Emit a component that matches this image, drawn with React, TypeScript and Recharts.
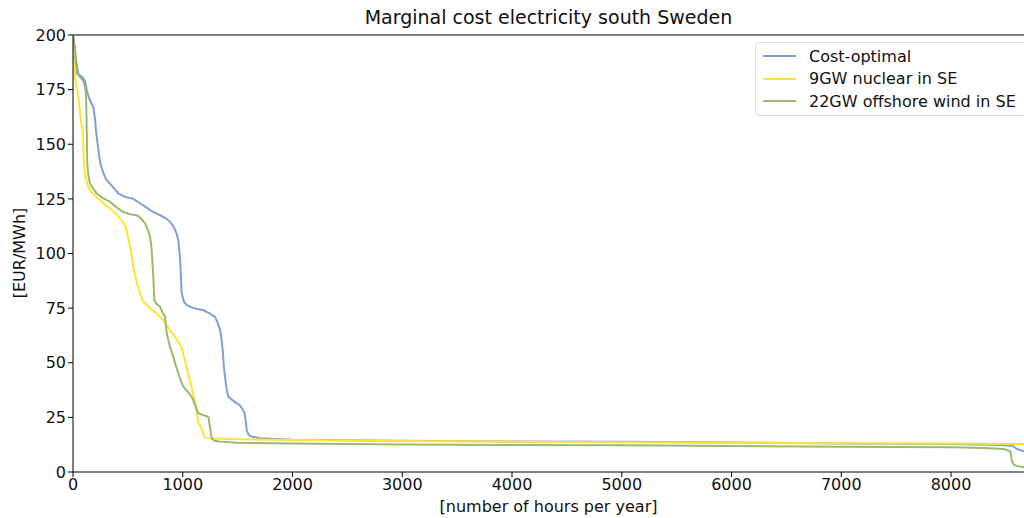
import React from "react";
import {
  LineChart,
  Line,
  XAxis,
  YAxis,
  ReferenceLine,
} from "recharts";

// duration curves: hours per year vs marginal cost [EUR/MWh]
const costOptimalHours = [0, 10, 25, 35, 50, 80, 110, 125, 140, 165, 185, 200, 210, 225, 240, 255, 276, 300, 337, 370, 413, 470, 550, 610, 671, 730, 793, 850, 884, 920, 945, 960, 975, 985, 990, 1010, 1036, 1100, 1187, 1250, 1294, 1320, 1340, 1355, 1364, 1375, 1385, 1400, 1415, 1450, 1490, 1522, 1560, 1575, 1582, 1600, 1628, 1700, 2000, 3000, 4000, 5000, 6000, 7000, 8000, 8450, 8560, 8600, 8665];
const costOptimalValues = [200, 196, 190, 186, 182, 181, 179, 175, 172, 169, 167, 162, 156, 150, 144, 140, 137, 134, 132, 130, 127.5, 126, 125, 123, 121, 119, 117.5, 116, 114.5, 112, 109, 106, 98, 88, 82, 78, 76.4, 75, 74, 72.5, 71, 68, 65, 60, 55.8, 48, 43.6, 38, 34.5, 33, 31.5, 30.5, 27.5, 23, 19.2, 17, 16.2, 15.5, 14.8, 14.3, 14, 13.8, 13.5, 13.1, 12.8, 12.3, 12, 10.5, 9.5];

const nuclearHours = [0, 8, 18, 35, 48, 60, 75, 88, 95, 100, 115, 135, 155, 200, 246, 300, 352, 413, 443, 480, 504, 520, 535, 550, 563, 585, 610, 640, 686, 750, 823, 880, 929, 960, 990, 1010, 1020, 1045, 1066, 1090, 1111, 1127, 1142, 1160, 1181, 1194, 1210, 1500, 2000, 3000, 4000, 5000, 6000, 7000, 8000, 8665];
const nuclearValues = [200, 190, 180, 176, 172, 166, 160, 156, 148, 141, 135, 131, 129, 126.5, 124.5, 122, 120, 117, 115, 112.5, 107, 103, 99, 94, 91, 86, 81.8, 78, 75.7, 73, 69.6, 65, 62, 59.5, 57, 53, 51, 46, 42, 37, 33, 27, 22.5, 21, 19, 16.2, 15.5, 15, 14.6, 14.2, 13.9, 13.6, 13.4, 13.2, 13, 12.8];

const offshoreHours = [0, 10, 18, 25, 34, 60, 94, 110, 118, 122, 125, 128, 130, 140, 155, 180, 216, 270, 337, 400, 459, 520, 580, 620, 656, 680, 702, 712, 717, 725, 733, 741, 760, 793, 815, 838, 854, 880, 914, 935, 960, 980, 1005, 1040, 1081, 1110, 1142, 1190, 1233, 1248, 1263, 1290, 1340, 1500, 2000, 3000, 4000, 5000, 6000, 7000, 8000, 8300, 8480, 8540, 8555, 8575, 8620, 8665];
const offshoreValues = [200, 197, 194, 188, 182.5, 181, 179, 176, 172, 165, 156.5, 148, 141, 136, 132, 130, 127.5, 125.5, 123.7, 121, 119, 118, 117.5, 116, 113.8, 111, 107.7, 104, 101.6, 95, 88, 78.7, 77, 75.7, 73, 71, 63.5, 58, 52.8, 49, 45.2, 42, 39, 37, 34.5, 31, 26.9, 26, 25.3, 20.7, 15.4, 14.3, 13.9, 13.4, 13, 12.6, 12.4, 12.2, 11.9, 11.6, 11.3, 11, 10.5, 9.5, 5, 3.2, 2.5, 2.3];

const xTicks = [0, 1000, 2000, 3000, 4000, 5000, 6000, 7000, 8000];
const yTicks = [0, 25, 50, 75, 100, 125, 150, 175, 200];

const toRows = (hours: number[], values: number[]) =>
  hours.map((h, i) => ({ hours: h, cost: values[i] }));

const series = [
  { name: "Cost-optimal", color: "#7f9fd8", data: toRows(costOptimalHours, costOptimalValues) },
  { name: "9GW nuclear in SE", color: "#ffe234", data: toRows(nuclearHours, nuclearValues) },
  { name: "22GW offshore wind in SE", color: "#9aba6c", data: toRows(offshoreHours, offshoreValues) },
];

const font = "'DejaVu Sans', sans-serif";

function LegendBox() {
  return (
    <div
      style={{
        position: "absolute",
        left: 755,
        top: 42,
        width: 290,
        border: "1px solid #dddddd",
        borderRadius: 4,
        background: "#fff",
        padding: "2px 8px 2px 7px",
        fontFamily: font,
        fontSize: 16,
        color: "#111",
      }}
    >
      {series.map((s) => (
        <div key={s.name} style={{ display: "flex", alignItems: "center", height: 22.5 }}>
          <span style={{ display: "inline-block", width: 33, height: 2, background: s.color, marginRight: 13 }} />
          <span>{s.name}</span>
        </div>
      ))}
    </div>
  );
}

export default function App() {
  return (
    <div style={{ position: "absolute", left: 0, top: 0, width: 1024, height: 518, background: "#fff", overflow: "hidden" }}>
      <div
        style={{
          position: "absolute",
          top: 6,
          left: 73,
          width: 951,
          textAlign: "center",
          fontFamily: font,
          fontSize: 19,
          color: "#111",
        }}
      >
        Marginal cost electricity south Sweden
      </div>
      <div
        style={{
          position: "absolute",
          left: 19,
          top: 253,
          transform: "translate(-50%, -50%) rotate(-90deg)",
          fontFamily: font,
          fontSize: 16,
          color: "#111",
          whiteSpace: "nowrap",
        }}
      >
        [EUR/MWh]
      </div>
      <div
        style={{
          position: "absolute",
          top: 497,
          left: 73,
          width: 951,
          textAlign: "center",
          fontFamily: font,
          fontSize: 16,
          color: "#111",
        }}
      >
        [number of hours per year]
      </div>
      <LineChart width={1024} height={518} margin={{ top: 35, right: 0, left: 0, bottom: 0 }}>
        <XAxis
          dataKey="hours"
          type="number"
          domain={[0, 8665]}
          ticks={xTicks}
          allowDataOverflow
          height={46}
          tickSize={5}
          stroke="#000"
          tick={{ fill: "#111", fontSize: 16, fontFamily: font }}
          tickLine={{ stroke: "#000" }}
        />
        <YAxis
          type="number"
          domain={[0, 200]}
          ticks={yTicks}
          allowDataOverflow
          width={73}
          tickSize={5}
          stroke="#000"
          tick={{ fill: "#111", fontSize: 16, fontFamily: font }}
          tickLine={{ stroke: "#000" }}
        />
        <ReferenceLine y={200} stroke="#000" strokeWidth={1} />
        {series.map((s) => (
          <Line
            key={s.name}
            data={s.data}
            dataKey="cost"
            name={s.name}
            type="linear"
            stroke={s.color}
            strokeWidth={2}
            dot={false}
            isAnimationActive={false}
          />
        ))}
      </LineChart>
      <LegendBox />
    </div>
  );
}
